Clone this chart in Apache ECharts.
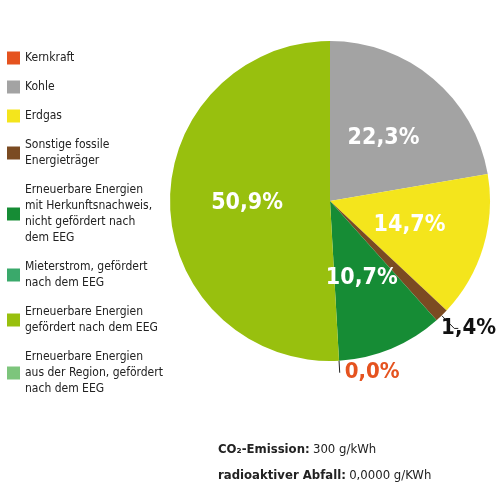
<!DOCTYPE html>
<html><head><meta charset="utf-8">
<script src="https://cdn.jsdelivr.net/npm/echarts@6/dist/echarts.min.js"></script>
<style>html,body{margin:0;padding:0;background:#fff}#c{width:499px;height:487px}</style>
</head><body><div id="c"></div>
<script>
const categories = ["Kernkraft","Kohle","Erdgas","Sonstige fossile\nEnergieträger","Erneuerbare Energien\nmit Herkunftsnachweis,\nnicht gefördert nach\ndem EEG","Mieterstrom, gefördert\nnach dem EEG","Erneuerbare Energien\ngefördert nach dem EEG","Erneuerbare Energien\naus der Region, gefördert\nnach dem EEG"];
const values = [0, 22.3, 14.7, 1.4, 10.7, 0.0, 50.9, 0];
const colors = ["#e5531f","#a3a3a3","#f4e51c","#7b4b22","#168c35","#3aa96b","#98c00e","#7dc57c"];
const labelMode = ["none","in","in","out","in","outOrange","in","none"];
const font = "'Liberation Sans Narrow','DejaVu Sans Condensed',sans-serif";
const fmt = v => v.toFixed(1).replace('.', ',') + '%';
const data = categories.map((n,i)=>{
  const d = {name:n, value:values[i], itemStyle:{color:colors[i]}};
  const m = labelMode[i];
  if (m==="none") { d.label={show:false}; d.labelLine={show:false}; }
  else if (m==="in") { d.label={show:true, position:'inside', color:'#fff', fontSize:23, fontWeight:'bold', fontFamily:font}; d.labelLine={show:false}; }
  else if (m==="out") { d.label={show:true, position:'outside', alignTo:'edge', edgeDistance:3, color:'#111', fontSize:22, fontWeight:'bold', fontFamily:font};
         d.labelLine={show:true, length:18, length2:4, lineStyle:{color:'#222', width:1}}; }
  else { d.label={show:true, position:'outside', color:'#e5531f', fontSize:22, fontWeight:'bold', fontFamily:font};
         d.labelLine={show:true, length:12, length2:0, lineStyle:{color:'#222', width:1}}; }
  return d;
});
const chart = echarts.init(document.getElementById('c'));
chart.setOption({
  animation:false,
  legend:{orient:'vertical', left:2, top:45, itemWidth:13, itemHeight:13, itemGap:13, icon:'rect',
    textStyle:{fontFamily:font, fontSize:12, color:'#222', lineHeight:16}, selectedMode:false},
  series:[{type:'pie', center:[330,201], radius:[0,160], startAngle:90, clockwise:true,
    avoidLabelOverlap:false, stillShowZeroSum:true,
    label:{formatter:p=>fmt(p.value)},
    itemStyle:{borderColor:'#fff', borderWidth:0},
    data:data}],
  graphic:[
    {type:'text', left:218, top:443, style:{rich:{b:{fontFamily:font,fontWeight:'bold',fontSize:13,fill:'#222'},n:{fontFamily:font,fontSize:13,fill:'#222'}}, text:'{b|CO₂-Emission:} {n|300 g/kWh}'}},
    {type:'text', left:218, top:469, style:{rich:{b:{fontFamily:font,fontWeight:'bold',fontSize:13,fill:'#222'},n:{fontFamily:font,fontSize:13,fill:'#222'}}, text:'{b|radioaktiver Abfall:} {n|0,0000 g/KWh}'}}
  ]
});
</script></body></html>
